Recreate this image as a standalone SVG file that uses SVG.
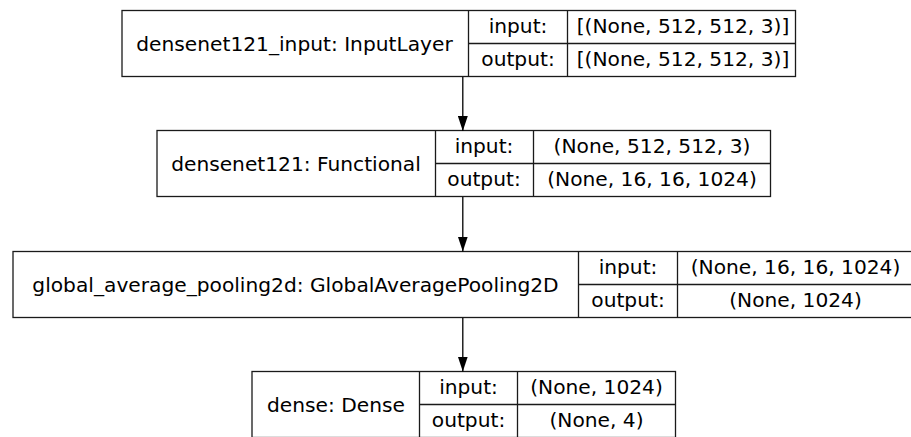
<svg xmlns="http://www.w3.org/2000/svg" width="911" height="437" viewBox="0 0 911 437">
  <style>
    .box { fill: #ffffff; stroke: #1a1a1a; stroke-width: 1.3; }
    .sep { stroke: #1a1a1a; stroke-width: 1.3; fill: none; }
    .t { font-family: "DejaVu Sans", sans-serif; font-size: 20.2px; fill: #000000; text-anchor: middle; }
    .edge { stroke: #000000; stroke-width: 1.3; fill: none; }
  </style>
  <defs>
    <marker id="arrow" markerWidth="15" markerHeight="10" refX="15" refY="5" orient="auto" markerUnits="userSpaceOnUse" viewBox="0 0 15 10">
      <path d="M0,0 L15,5 L0,10 Z" fill="#000000"/>
    </marker>
  </defs>
  <rect width="911" height="437" fill="#ffffff"/>

  <!-- densenet121_input -->
  <g id="node-densenet121-input">
    <rect class="box" x="122" y="10.5" width="673.5" height="66"/>
    <line class="sep" x1="468.5" y1="10.5" x2="468.5" y2="76.5"/>
    <line class="sep" x1="567.5" y1="10.5" x2="567.5" y2="76.5"/>
    <line class="sep" x1="468.5" y1="43.5" x2="795.5" y2="43.5"/>
    <text class="t" x="294.5" y="50.5">densenet121_input: InputLayer</text>
    <text class="t" x="518" y="33">input:</text>
    <text class="t" x="683" y="33">[(None, 512, 512, 3)]</text>
    <text class="t" x="518" y="66">output:</text>
    <text class="t" x="683" y="66">[(None, 512, 512, 3)]</text>
  </g>

  <!-- densenet121 -->
  <g id="node-densenet121">
    <rect class="box" x="157" y="130.5" width="613.5" height="66"/>
    <line class="sep" x1="435.5" y1="130.5" x2="435.5" y2="196.5"/>
    <line class="sep" x1="533.5" y1="130.5" x2="533.5" y2="196.5"/>
    <line class="sep" x1="435.5" y1="163.5" x2="770.5" y2="163.5"/>
    <text class="t" x="296" y="170.5">densenet121: Functional</text>
    <text class="t" x="484" y="153">input:</text>
    <text class="t" x="652" y="153">(None, 512, 512, 3)</text>
    <text class="t" x="484" y="186">output:</text>
    <text class="t" x="652" y="186">(None, 16, 16, 1024)</text>
  </g>

  <!-- global_average_pooling2d -->
  <g id="node-global-average-pooling2d">
    <rect class="box" x="13" y="251.5" width="900" height="66"/>
    <line class="sep" x1="578.5" y1="251.5" x2="578.5" y2="317.5"/>
    <line class="sep" x1="677.5" y1="251.5" x2="677.5" y2="317.5"/>
    <line class="sep" x1="578.5" y1="284.5" x2="913" y2="284.5"/>
    <text class="t" x="295.5" y="291.5">global_average_pooling2d: GlobalAveragePooling2D</text>
    <text class="t" x="628" y="274">input:</text>
    <text class="t" x="795.5" y="274">(None, 16, 16, 1024)</text>
    <text class="t" x="628" y="307">output:</text>
    <text class="t" x="795.5" y="307">(None, 1024)</text>
  </g>

  <!-- dense -->
  <g id="node-dense">
    <rect class="box" x="252" y="371.5" width="423.5" height="66"/>
    <line class="sep" x1="419.5" y1="371.5" x2="419.5" y2="437.5"/>
    <line class="sep" x1="517.5" y1="371.5" x2="517.5" y2="437.5"/>
    <line class="sep" x1="419.5" y1="404.5" x2="675.5" y2="404.5"/>
    <text class="t" x="336" y="411.5">dense: Dense</text>
    <text class="t" x="468.5" y="394">input:</text>
    <text class="t" x="596.5" y="394">(None, 1024)</text>
    <text class="t" x="468.5" y="427">output:</text>
    <text class="t" x="596.5" y="427">(None, 4)</text>
  </g>

  <!-- connectors -->
  <g id="edges">
    <line class="edge" x1="462.8" y1="77" x2="462.8" y2="131" marker-end="url(#arrow)"/>
    <line class="edge" x1="462.8" y1="197" x2="462.8" y2="251.5" marker-end="url(#arrow)"/>
    <line class="edge" x1="462.8" y1="318" x2="462.8" y2="371.5" marker-end="url(#arrow)"/>
  </g>
</svg>
